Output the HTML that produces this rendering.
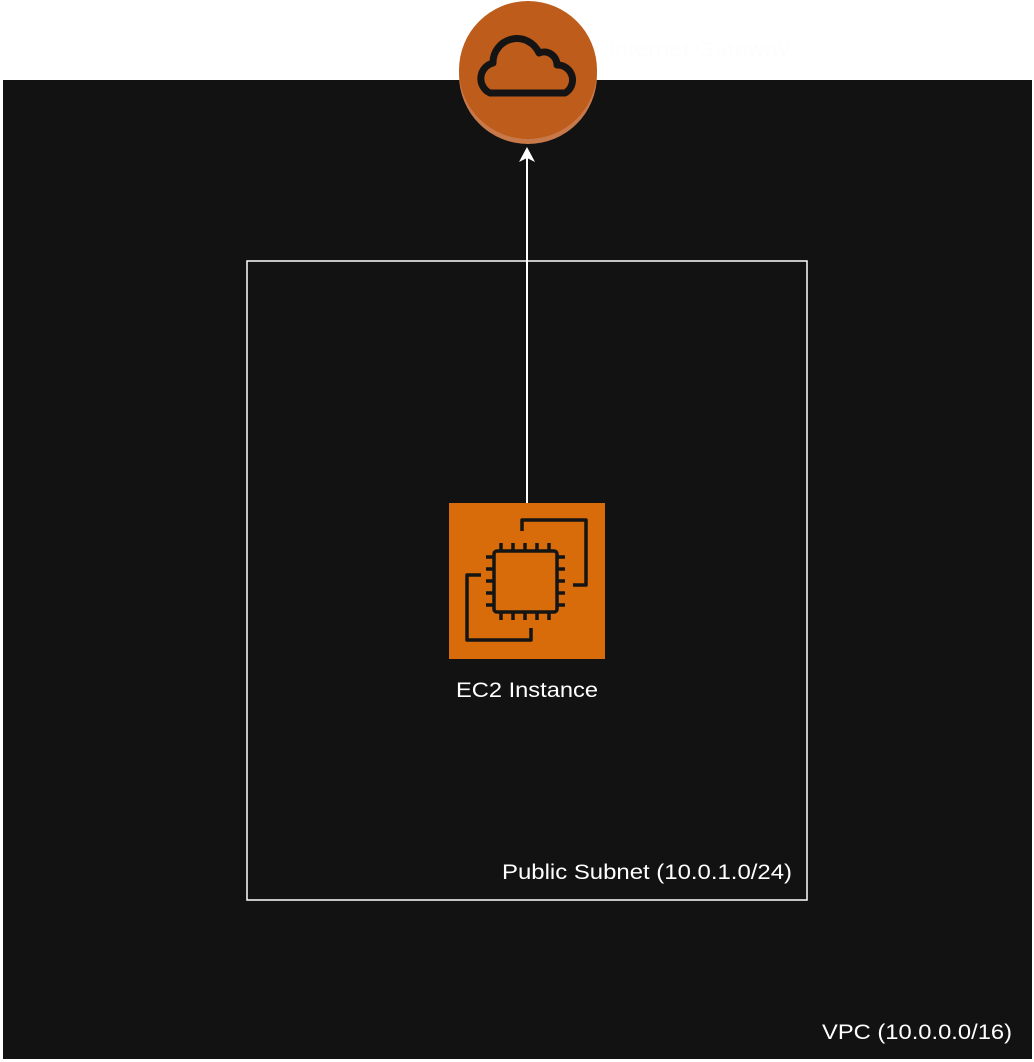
<!DOCTYPE html>
<html><head><style>
html,body{margin:0;padding:0;background:#fff;width:1034px;height:1062px;overflow:hidden;font-family:"Liberation Sans",sans-serif;}
</style></head><body>
<svg width="1034" height="1062" xmlns="http://www.w3.org/2000/svg" style="position:absolute;left:0;top:0">
<rect x="3" y="80" width="1029" height="979" fill="#121212"/>
<text x="822" y="1039" fill="#fff" font-size="21" textLength="190" lengthAdjust="spacingAndGlyphs" font-family="Liberation Sans, sans-serif">VPC (10.0.0.0/16)</text>
<rect x="247" y="261" width="560" height="639" fill="none" stroke="#fff" stroke-width="1.5"/>
<text x="502" y="879" fill="#fff" font-size="21" textLength="290" lengthAdjust="spacingAndGlyphs" font-family="Liberation Sans, sans-serif">Public Subnet (10.0.1.0/24)</text>
<line x1="527" y1="503" x2="527" y2="158" stroke="#fff" stroke-width="2"/>
<polygon points="527,147 519,162 527,158 535,162" fill="#fff"/>
<circle cx="528" cy="75" r="69" fill="#c8794a"/>
<circle cx="528" cy="70" r="69" fill="#bd5c1b"/>
<path d="M490,93 H565 A15,15 0 0 0 557,65 A13,13 0 0 0 539,53 A24,24 0 0 0 493,63 A16,16 0 0 0 490,93 Z" fill="none" stroke="#141414" stroke-width="7" stroke-linejoin="round"/>
<text x="608" y="56" fill="#fdfdfd" font-size="21" textLength="182" lengthAdjust="spacingAndGlyphs" font-family="Liberation Sans, sans-serif">Internet Gateway</text>
<rect x="449" y="503" width="156" height="156" fill="#d86c0b"/>
<g fill="none" stroke="#141414" stroke-width="3.5" stroke-linejoin="round">
<path d="M522,531 V520 H586 V585 H573"/>
<path d="M481,575 H467 V640 H531 V628"/>
<rect x="494" y="551" width="63" height="61" rx="3"/>
<path d="M501,551 v-8 M513,551 v-8 M525,551 v-8 M537,551 v-8 M549,551 v-8 M501,612 v8 M513,612 v8 M525,612 v8 M537,612 v8 M549,612 v8 M494,557 h-8 M494,569 h-8 M494,581 h-8 M494,593 h-8 M494,605 h-8 M557,557 h8 M557,569 h8 M557,581 h8 M557,593 h8 M557,605 h8"/>
</g>
<text x="456" y="697" fill="#fff" font-size="21" textLength="142" lengthAdjust="spacingAndGlyphs" font-family="Liberation Sans, sans-serif">EC2 Instance</text>
</svg>
</body></html>
